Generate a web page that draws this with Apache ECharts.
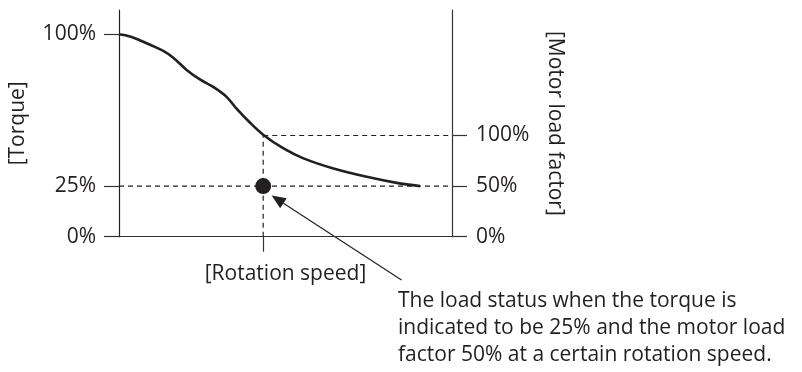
<!DOCTYPE html>
<html>
<head>
<meta charset="utf-8">
<script src="https://cdn.jsdelivr.net/npm/echarts@6/dist/echarts.min.js"></script>
<style>
  html, body { margin: 0; padding: 0; background: #fff; }
  #chart { width: 802px; height: 372px; }
</style>
</head>
<body>
<div id="chart"></div>
<script>
// Torque curve: [rotation speed (relative), torque %]
const torqueCurve = [
  [0, 100], [3.3, 98.9], [7.3, 96.3], [13.3, 91.8], [16.3, 88.4],
  [20.3, 82.4], [24.3, 77.7], [28.3, 74.0], [32.3, 69.1], [35.3, 63.3],
  [39.3, 56.4], [43.3, 50.4], [49.4, 43.6], [55.4, 38.7],
  [64.4, 33.7], [74.4, 29.6], [83.4, 26.6], [90.4, 25.0]
];
// Operating point: speed, torque %, motor load factor %
const opSpeed = 43.3;
const opTorque = 25;
const opLoad = 50;
const loadRef = 100;           // load factor reference level (right axis)
const torqueTicks = [0, 25, 100];
const loadTicks = [0, 50, 100];
const axisNames = {
  x: '[Rotation speed]',
  left: '[Torque]',
  right: '[Motor load factor]'
};
const noteLines = [
  'The load status when the torque is',
  'indicated to be 25% and the motor load',
  'factor 50% at a certain rotation speed.'
];

const ink = '#231f20';
const axisColor = '#333';
const font = 'Open Sans';
const fs = 21;
const dash = [5, 4];

const chart = echarts.init(document.getElementById('chart'));

const option = {
  animation: false,
  backgroundColor: '#fff',
  grid: { left: 119, right: 350, top: 10, bottom: 135.3, outerBoundsMode: 'none', containLabel: false },
  xAxis: {
    type: 'value', min: 0, max: 100,
    splitLine: { show: false },
    axisLine: { lineStyle: { color: axisColor, width: 1.2 } },
    axisTick: { show: true, customValues: [opSpeed], length: 15, inside: false,
                lineStyle: { color: axisColor, width: 1.2 } },
    axisLabel: { show: false },
    name: axisNames.x, nameLocation: 'middle', nameGap: 27,
    nameTextStyle: { color: ink, fontFamily: font, fontSize: fs, verticalAlign: 'top' }
  },
  yAxis: [
    {
      type: 'value', min: 0, max: 112, position: 'left',
      splitLine: { show: false },
      axisLine: { show: true, lineStyle: { color: ink, width: 1.2 } },
      axisTick: { show: true, customValues: torqueTicks, length: 15,
                  lineStyle: { color: axisColor, width: 1.2 } },
      axisLabel: { customValues: torqueTicks, margin: 23, formatter: '{value}%',
                   color: ink, fontFamily: font, fontSize: fs },
      name: axisNames.left, nameLocation: 'middle', nameRotate: 90, nameGap: 90,
      nameTextStyle: { color: ink, fontFamily: font, fontSize: fs }
    },
    {
      type: 'value', min: 0, max: 224, position: 'right',
      splitLine: { show: false },
      axisLine: { show: true, lineStyle: { color: axisColor, width: 1.2 } },
      axisTick: { show: true, customValues: loadTicks, length: 15,
                  lineStyle: { color: axisColor, width: 1.2 } },
      axisLabel: { customValues: loadTicks, margin: 24, formatter: '{value}%',
                   color: ink, fontFamily: font, fontSize: fs },
      name: axisNames.right, nameLocation: 'middle', nameRotate: -90, nameGap: 92,
      nameTextStyle: { color: ink, fontFamily: font, fontSize: fs }
    }
  ],
  series: [
    { // torque guide line
      type: 'line', yAxisIndex: 0, symbol: 'none', silent: true,
      data: [[0, opTorque], [100, opTorque]],
      lineStyle: { color: ink, width: 1.2, type: dash }
    },
    { // load reference guide line
      type: 'line', yAxisIndex: 1, symbol: 'none', silent: true,
      data: [[opSpeed, loadRef], [100, loadRef]],
      lineStyle: { color: ink, width: 1.2, type: dash }
    },
    { // speed guide line
      type: 'line', yAxisIndex: 1, symbol: 'none', silent: true,
      data: [[opSpeed, 0], [opSpeed, loadRef]],
      lineStyle: { color: ink, width: 1.2, type: dash }
    },
    {
      type: 'line', yAxisIndex: 0, symbol: 'none', smooth: 0.35,
      data: torqueCurve,
      lineStyle: { color: ink, width: 2.6 }
    },
    {
      type: 'scatter', yAxisIndex: 0, symbol: 'circle', symbolSize: 16,
      data: [[opSpeed, opTorque]],
      itemStyle: { color: ink, opacity: 1 }
    }
  ]
};
chart.setOption(option);

// Annotation: note text with an arrow pointing at the operating point
const pt = chart.convertToPixel({ seriesIndex: 4 }, [opSpeed, opTorque]);
const tip = [pt[0] + 8.5, pt[1] + 9.5];
const tail = [401.5, 280];
const ang = Math.atan2(tail[1] - tip[1], tail[0] - tip[0]);
const headLen = 14, headHalf = 6;
const bx = tip[0] + Math.cos(ang) * headLen, by = tip[1] + Math.sin(ang) * headLen;
const nx = -Math.sin(ang) * headHalf, ny = Math.cos(ang) * headHalf;

chart.setOption({
  graphic: [
    { type: 'line', shape: { x1: bx, y1: by, x2: tail[0], y2: tail[1] },
      style: { stroke: ink, lineWidth: 1.2 } },
    { type: 'polygon', shape: { points: [tip, [bx + nx, by + ny], [bx - nx, by - ny]] },
      style: { fill: ink } },
    { type: 'text', left: 398, top: 288,
      style: { text: noteLines.join('\n'), fill: ink, font: fs + 'px "' + font + '"', lineHeight: 27 } }
  ]
});
</script>
</body>
</html>
